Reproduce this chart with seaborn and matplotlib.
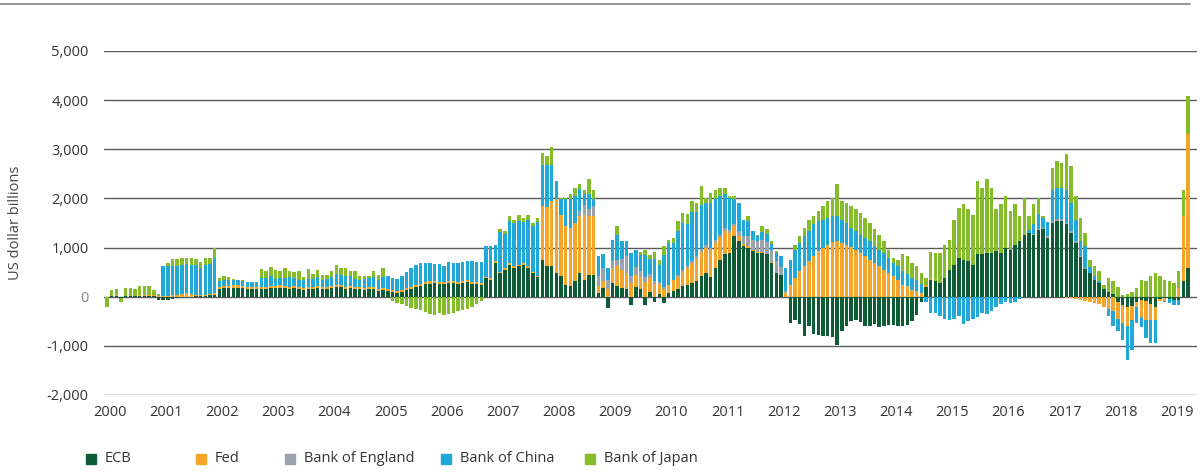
import numpy as np
import pandas as pd
import matplotlib
matplotlib.use('Agg')
import matplotlib.pyplot as plt
from matplotlib.patches import Rectangle
from matplotlib.lines import Line2D
import seaborn as sns

# monthly, Jan 2000 .. Apr 2019, US dollar billions
ecb = [
    0, 20, 20, -20, 10, 10, 10, 20, 20, 20, 10, -60,
    -60, -70, -40, -20, -10, 0, 0, 10, 10, 20, 30, 40,
    150, 170, 170, 180, 180, 170, 160, 150, 150, 150, 160, 170,
    170, 180, 170, 160, 170, 150, 140, 150, 160, 170, 150, 160,
    180, 190, 200, 160, 170, 150, 160, 140, 150, 160, 120, 130,
    120, 100, 80, 90, 130, 160, 200, 220, 250, 260, 270, 250,
    260, 280, 270, 250, 280, 290, 260, 250, 240, 380, 350, 690,
    480, 550, 650, 585, 620, 650, 585, 480, 400, 755, 620, 620,
    480, 415, 245, 210, 310, 480, 350, 450, 450, 75, 180, -230,
    280, 210, 180, 150, -160, 200, 150, -170, 100, -100, 50, -120,
    75, 110, 150, 210, 240, 280, 320, 415, 480, 400, 585, 755,
    860, 890, 1230, 1130, 1030, 990, 925, 890, 890, 860, 690, 480,
    450, 0, -540, -470, -550, -800, -600, -750, -780, -790, -800, -820,
    -980, -700, -600, -500, -480, -520, -600, -600, -560, -620, -600, -580,
    -580, -600, -600, -580, -500, -370, -100, 200, 350, 310, 280, 380,
    550, 650, 790, 755, 720, 650, 860, 860, 890, 890, 925, 890,
    990, 960, 1060, 1130, 1265, 1300, 1250, 1350, 1370, 1200, 1500, 1540,
    1540, 1470, 1300, 1100, 800, 570, 480, 350, 280, 150, 100, 50,
    -100, -165, -200, -180, -100, -60, -80, -150, -200, -50, -30, -40,
    -60, -60, 310, 585,
]
fed = [
    0, 0, 10, 0, 10, 10, 10, 10, 10, 10, 20, 20,
    10, 20, 30, 40, 60, 70, 50, 30, 20, 20, 30, 40,
    50, 50, 50, 50, 50, 40, 40, 40, 40, 40, 40, 50,
    50, 50, 40, 40, 40, 40, 40, 40, 40, 40, 40, 40,
    40, 50, 40, 40, 50, 40, 30, 40, 40, 40, 30, 40,
    40, 40, 30, 40, 40, 40, 40, 40, 40, 50, 40, 40,
    40, 40, 40, 40, 40, 40, 40, 40, 30, 30, 30, 30,
    30, 30, 30, 30, 30, 30, 30, 30, 30, 1085, 1200, 1330,
    1500, 1255, 1190, 1190, 1190, 1160, 1320, 1190, 1190, 135, 130, 150,
    300, 410, 360, 330, 280, 250, 250, 300, 280, 250, 200, 150,
    170, 220, 260, 300, 350, 400, 450, 500, 520, 550, 500, 450,
    470, 400, 200, 100, 50, 40, 30, 20, 20, 10, 10, 0,
    0, 75, 245, 380, 520, 620, 720, 820, 925, 990, 1060, 1110,
    1130, 1095, 1060, 1010, 960, 890, 820, 755, 690, 620, 550, 480,
    415, 345, 245, 210, 140, 110, 75, 30, 10, 0, 0, 0,
    0, 0, 0, 0, 0, 0, 0, 0, 0, 0, 0, 0,
    0, 0, 0, 0, 0, 0, 0, 0, 0, 0, 0, 0,
    -10, -20, -30, -40, -60, -80, -100, -120, -150, -200, -250, -300,
    -350, -375, -400, -290, -100, -350, -390, -320, -270, -45, -50, 0,
    0, 175, 1330, 2720,
]
boe = [
    0, 0, 0, 0, 0, 0, 0, 0, 0, 0, 0, 0,
    0, 0, 0, 0, 0, 0, 0, 0, 0, 0, 0, 0,
    0, 0, 0, 0, 0, 0, 0, 0, 0, 0, 0, 0,
    0, 0, 0, 0, 0, 0, 0, 0, 0, 0, 0, 0,
    0, 0, 0, 0, 0, 0, 0, 0, 0, 0, 0, 0,
    0, 0, 0, 0, 0, 0, 0, 0, 0, 0, 0, 0,
    0, 0, 0, 0, 0, 0, 0, 0, 0, 0, 0, 0,
    0, 0, 0, 0, 0, 0, 0, 0, 0, 0, 0, 0,
    0, 0, 0, 0, 0, 100, 200, 150, 200, 205, 275, 200,
    140, 130, 230, 340, 135, 150, 120, 100, 80, 60, 50, 50,
    0, 0, 30, 40, 40, 50, 50, 60, 50, 50, 60, 50,
    60, 60, 50, 100, 150, 200, 200, 220, 250, 250, 250, 250,
    150, 50, 0, 0, 0, 0, 0, 0, 0, 0, 0, 0,
    0, 0, 0, 0, 0, 0, 0, 0, 0, 0, 0, 0,
    0, 0, 0, 0, 0, 0, 0, 0, 0, 0, 0, 0,
    0, 0, 0, 0, 0, 0, 0, 0, 0, 0, 0, 0,
    0, 0, 0, 0, 0, 0, 30, 30, 30, 30, 40, 40,
    40, 40, 40, 30, 30, 20, 0, 0, 0, 0, 0, 0,
    0, 0, 0, 0, 0, 0, 0, 0, 0, 0, 0, 0,
    0, 0, 0, 0,
]
china = [
    0, 0, 0, 0, 0, 0, 0, 0, 0, 0, 0, 0,
    620, 600, 590, 590, 590, 600, 590, 600, 560, 600, 610, 700,
    120, 130, 130, 110, 100, 110, 100, 110, 110, 200, 180, 200,
    150, 150, 180, 200, 180, 150, 160, 180, 160, 200, 150, 170,
    180, 220, 200, 220, 200, 180, 150, 180, 200, 210, 200, 230,
    260, 250, 260, 300, 330, 380, 400, 420, 400, 380, 350, 380,
    330, 380, 380, 400, 380, 400, 420, 420, 430, 620, 650, 340,
    800, 700, 860, 880, 900, 850, 950, 930, 1100, 850, 870, 740,
    370, 320, 545, 580, 550, 450, 210, 300, 150, 405, 275, 235,
    440, 500, 360, 310, 475, 360, 330, 450, 300, 460, 350, 650,
    850, 770, 900, 950, 850, 1000, 900, 900, 850, 900, 850, 800,
    700, 650, 500, 570, 340, 310, 175, 100, 150, 150, 130, 150,
    220, 460, 510, 580, 575, 610, 610, 650, 615, 580, 550, 530,
    510, 475, 440, 390, 370, 375, 380, 375, 340, 340, 340, 310,
    275, 275, 270, 250, 240, 240, 180, -100, -330, -330, -400, -450,
    -480, -460, -400, -550, -500, -450, -420, -330, -350, -300, -200, -150,
    -100, -120, -100, -50, 0, 50, 200, 300, 200, 300, 640, 640,
    640, 670, 570, 440, 300, 440, 120, 80, 30, 0, -150, -300,
    -250, -340, -680, -610, -340, -200, -375, -475, -475, 0, -20, -90,
    -105, -100, 0, 0,
]
japan = [
    -200, 110, 130, -80, 150, 150, 140, 180, 180, 180, 110, 30,
    0, 60, 140, 140, 130, 120, 140, 120, 120, 140, 120, 220,
    60, 70, 60, 30, 10, 10, 0, 0, 0, 170, 140, 180,
    180, 150, 190, 120, 110, 180, 70, 200, 100, 140, 100, 80,
    120, 180, 140, 160, 100, 150, 80, 60, 40, 120, 100, 180,
    0, -80, -120, -150, -180, -220, -260, -280, -320, -350, -380, -330,
    -370, -360, -330, -300, -280, -250, -200, -150, -80, 0, 0, 0,
    60, 60, 100, 75, 120, 70, 105, 60, 70, 240, 170, 360,
    0, 10, 20, 100, 170, 100, 100, 300, 190, 0, 0, 0,
    0, 185, 0, 0, 0, 0, 50, 100, 90, 150, 100, 180,
    65, 100, 200, 200, 200, 220, 180, 375, 110, 210, 185, 165,
    130, 50, 70, 10, 0, 100, 0, 35, 125, 100, 50, 45,
    0, 0, 0, 100, 135, 170, 240, 170, 200, 270, 340, 370,
    645, 380, 410, 440, 445, 445, 410, 370, 340, 305, 240, 170,
    100, 135, 345, 360, 310, 270, 225, 150, 540, 580, 610, 680,
    610, 920, 1020, 1125, 1055, 1020, 1490, 1360, 1500, 1330, 850, 1000,
    1060, 780, 820, 510, 745, 300, 400, 320, 40, 0, 445, 540,
    510, 720, 750, 480, 470, 270, 155, 190, 205, 95, 280, 260,
    200, 40, 60, 100, 175, 345, 310, 415, 480, 415, 345, 310,
    280, 340, 540, 785,
]

banks = ['ECB', 'Fed', 'Bank of England', 'Bank of China', 'Bank of Japan']
colors = ['#0d5c36', '#f5a52a', '#9aa3ab', '#1fa8d8', '#85bc2a']
year_labels = [str(y) for y in range(2000, 2020)]

df = pd.DataFrame(dict(zip(banks, [ecb, fed, boe, china, japan])))
idx = np.arange(len(df))

# positive and negative parts stack separately
pos = df.clip(lower=0).cumsum(axis=1)
neg = df.clip(upper=0).cumsum(axis=1)

sns.set_style('white')
plt.rcParams['font.family'] = ['Open Sans', 'DejaVu Sans']

fig = plt.figure(figsize=(12.04, 4.75), dpi=100)
ax = fig.add_axes([104 / 1204, 80 / 475, 1093 / 1204, 344 / 475])

# draw outer cumulative layers first, inner ones on top
for bank, col in reversed(list(zip(banks, colors))):
    for part in (pos, neg):
        sns.barplot(x=idx, y=part[bank].values, color=col, saturation=1,
                    width=0.74, errorbar=None, linewidth=0, ax=ax, zorder=3)

ax.set_ylim(-2000, 5000)
ax.set_xlim(-0.64, 232.9)
ax.set_yticks(range(-2000, 5001, 1000))
ax.set_yticklabels(['{:,}'.format(v) for v in range(-2000, 5001, 1000)])
ax.set_xticks([12 * k + 0.6 for k in range(len(year_labels))])
ax.set_xticklabels(year_labels)
ax.yaxis.grid(True, color='#5a5a5a', linewidth=1.0, zorder=0)
ax.xaxis.grid(False)
ax.set_axisbelow(True)
for s in ax.spines.values():
    s.set_visible(False)
ax.tick_params(axis='y', length=0, pad=11, labelsize=10.5, labelcolor='#333333')
ax.tick_params(axis='x', length=0, pad=7, labelsize=10.5, labelcolor='#333333')
for lab in ax.get_yticklabels():
    if lab.get_text() == '0':
        lab.set_color('#8a8a8a')
ax.set_xlabel('')
ax.set_ylabel('US dollar billions', fontsize=10.5, color='#444444')
ax.yaxis.set_label_coords((23 - 104) / 1093, 0.5)

# top rule
fig.add_artist(Line2D([0, 1190 / 1204], [471 / 475, 471 / 475], color='#9a9a9a',
                      linewidth=1.5, transform=fig.transFigure))

# legend at the bottom
sq_x = [86, 196, 285, 441, 585]
for x, bank, col in zip(sq_x, banks, colors):
    fig.add_artist(Rectangle((x / 1204, 11 / 475), 10 / 1204, 10 / 475,
                             color=col, transform=fig.transFigure))
    fig.text((x + 19) / 1204, 16 / 475, bank, fontsize=10.5, color='#333333',
             va='center', ha='left')

fig.savefig('out.png', dpi=100)
